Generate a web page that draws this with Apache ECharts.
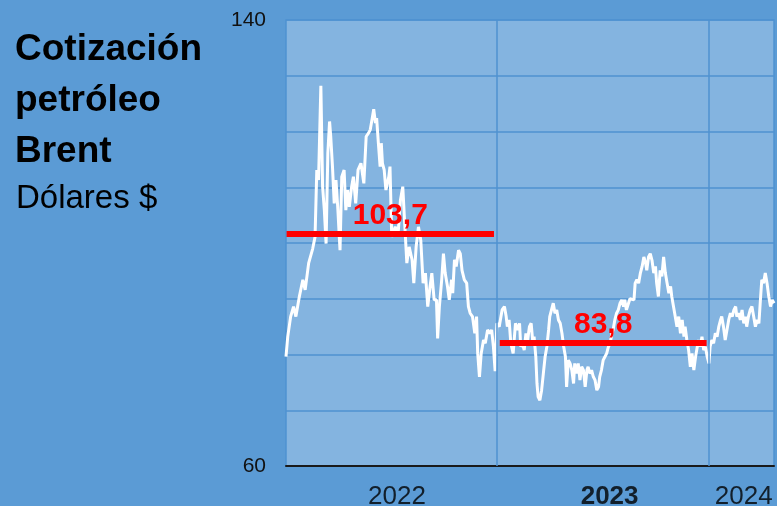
<!DOCTYPE html>
<html>
<head>
<meta charset="utf-8">
<script src="https://cdn.jsdelivr.net/npm/echarts@6/dist/echarts.min.js"></script>
<style>
  html, body { margin: 0; padding: 0; background: #5b9bd5; }
  #container { width: 777px; height: 506px; }
</style>
</head>
<body>
<div id="container"></div>
<script>
// daily-ish Brent quotes
const dates = [
  '2022-01-03','2022-01-06','2022-01-11','2022-01-16','2022-01-20','2022-01-26','2022-02-01','2022-02-05','2022-02-11','2022-02-18',
  '2022-02-22','2022-02-25','2022-02-28','2022-03-04','2022-03-07','2022-03-10','2022-03-13','2022-03-16','2022-03-19','2022-03-21',
  '2022-03-24','2022-03-27','2022-03-30','2022-04-02','2022-04-06','2022-04-09','2022-04-13','2022-04-16','2022-04-19','2022-04-22',
  '2022-04-26','2022-04-29','2022-05-03','2022-05-07','2022-05-12','2022-05-17','2022-05-21','2022-05-25','2022-05-28','2022-05-31',
  '2022-06-03','2022-06-06','2022-06-08','2022-06-11','2022-06-14','2022-06-16','2022-06-18','2022-06-21','2022-06-24','2022-06-29',
  '2022-07-01','2022-07-04','2022-07-10','2022-07-15','2022-07-19','2022-07-23','2022-07-26','2022-07-30','2022-08-03','2022-08-08',
  '2022-08-11','2022-08-15','2022-08-19','2022-08-23','2022-08-27','2022-08-31','2022-09-04','2022-09-08','2022-09-11','2022-09-15',
  '2022-09-19','2022-09-21','2022-09-24','2022-09-28','2022-10-01','2022-10-04','2022-10-08','2022-10-11','2022-10-15','2022-10-17',
  '2022-10-20','2022-10-23','2022-10-27','2022-10-30','2022-11-02','2022-11-06','2022-11-10','2022-11-13','2022-11-16','2022-11-20',
  '2022-11-24','2022-11-27','2022-11-29','2022-12-02','2022-12-05','2022-12-09','2022-12-12','2022-12-16','2022-12-20','2022-12-23',
  '2022-12-26','2022-12-29',
  '2023-01-01','2023-01-05','2023-01-10','2023-01-14','2023-01-17','2023-01-19','2023-01-22','2023-01-25','2023-01-29','2023-02-02',
  '2023-02-06','2023-02-09','2023-02-11','2023-02-14','2023-02-17','2023-02-20','2023-02-23','2023-02-26','2023-03-01','2023-03-04',
  '2023-03-06','2023-03-09','2023-03-11','2023-03-13','2023-03-16','2023-03-19','2023-03-22','2023-03-25','2023-03-28','2023-03-31',
  '2023-04-02','2023-04-05','2023-04-08','2023-04-11','2023-04-14','2023-04-17','2023-04-20','2023-04-23','2023-04-26','2023-04-29',
  '2023-05-01','2023-05-04','2023-05-07','2023-05-10','2023-05-13','2023-05-15','2023-05-18','2023-05-21','2023-05-24','2023-05-27',
  '2023-05-30','2023-06-02','2023-06-05','2023-06-07','2023-06-10','2023-06-13','2023-06-16','2023-06-19','2023-06-22','2023-06-25',
  '2023-06-27','2023-06-30','2023-07-03','2023-07-06','2023-07-09','2023-07-12','2023-07-15','2023-07-18','2023-07-20','2023-07-23',
  '2023-07-26','2023-07-29','2023-08-01','2023-08-04','2023-08-07','2023-08-09','2023-08-12','2023-08-18','2023-08-25','2023-08-27',
  '2023-08-30','2023-09-02','2023-09-05','2023-09-08','2023-09-11','2023-09-14','2023-09-16','2023-09-19','2023-09-22','2023-09-25',
  '2023-09-28','2023-10-01','2023-10-03','2023-10-06','2023-10-09','2023-10-12','2023-10-15','2023-10-18','2023-10-21','2023-10-24',
  '2023-10-27','2023-10-29','2023-11-01','2023-11-04','2023-11-07','2023-11-10','2023-11-13','2023-11-16','2023-11-19','2023-11-21',
  '2023-11-24','2023-11-27','2023-11-30','2023-12-03','2023-12-06','2023-12-09','2023-12-11','2023-12-14','2023-12-17','2023-12-20',
  '2023-12-23','2023-12-26','2023-12-29',
  '2024-01-01','2024-01-03','2024-01-06','2024-01-09','2024-01-12','2024-01-15','2024-01-18','2024-01-21','2024-01-23','2024-01-26',
  '2024-01-29','2024-02-01','2024-02-04','2024-02-07','2024-02-10','2024-02-13','2024-02-16','2024-02-18','2024-02-21','2024-02-24',
  '2024-02-27','2024-03-01','2024-03-04','2024-03-06','2024-03-09','2024-03-12','2024-03-15','2024-03-18','2024-03-21','2024-03-24',
  '2024-03-27','2024-03-30','2024-04-01','2024-04-04','2024-04-07','2024-04-10','2024-04-13','2024-04-16','2024-04-19','2024-04-22'
];
const prices = [
  79.6, 83.2, 86.8, 88.6, 86.8, 90.4, 93.4, 91.6, 96.4, 99.0,
  101.1, 113.1, 111.3, 128.2, 110.1, 105.9, 99.9, 116.1, 121.8, 119.1,
  113.7, 107.1, 111.3, 106.5, 98.7, 111.9, 113.1, 105.9, 109.5, 106.5,
  110.1, 111.9, 107.1, 113.1, 114.3, 110.7, 119.1, 119.7, 120.3, 122.1,
  124.0, 121.5, 122.4, 117.9, 113.7, 117.9, 114.3, 113.1, 109.5, 111.9,
  113.7, 101.1, 102.9, 101.7, 107.7, 110.1, 104.1, 96.4, 99.3, 97.0,
  92.8, 99.3, 102.9, 100.5, 92.8, 94.6, 88.6, 92.2, 94.6, 89.8,
  89.8, 82.9, 88.6, 93.4, 98.1, 94.6, 92.2, 89.8, 93.4, 91.0,
  97.0, 95.8, 98.7, 98.1, 95.1, 93.4, 92.8, 88.6, 87.4, 86.8,
  83.8, 86.8, 80.2, 76.0, 80.2, 82.6, 82.0, 84.4, 83.8, 84.4,
  81.4, 77.0,
  85.6, 85.0, 88.0, 88.6, 86.8, 85.0, 86.2, 82.0, 80.2, 85.6,
  84.4, 85.6, 81.4, 82.0, 80.8, 83.8, 82.6, 85.0, 85.6, 82.0,
  83.2, 79.6, 74.8, 72.4, 71.8, 73.6, 76.6, 79.6, 81.4, 84.4,
  86.8, 88.0, 89.2, 87.4, 88.0, 86.2, 85.6, 83.8, 81.4, 79.6,
  74.2, 79.0, 78.4, 77.2, 74.8, 78.4, 76.6, 78.4, 75.4, 77.8,
  77.2, 74.2, 77.2, 77.8, 76.6, 77.2, 76.0, 75.4, 73.6, 74.2,
  76.0, 77.2, 79.0, 79.6, 80.2, 81.4, 82.0, 83.8, 84.4, 86.2,
  87.4, 88.0, 89.2, 89.8, 88.6, 89.8, 88.0, 90.0, 89.8, 92.8,
  93.4, 92.8, 94.6, 95.8, 97.5, 96.4, 95.1, 97.5, 98.1, 96.9,
  94.6, 95.8, 92.8, 90.4, 95.1, 94.0, 97.5, 94.6, 92.8, 91.0,
  92.2, 90.4, 88.6, 86.8, 85.0, 86.8, 83.8, 86.2, 83.2, 85.0,
  82.6, 80.8, 77.8, 80.2, 77.2, 79.6, 80.8, 82.6, 81.4, 83.2,
  80.8, 81.4, 79.6,
  78.4, 81.4, 82.6, 82.0, 83.8, 83.2, 85.0, 86.2, 86.8, 85.0,
  82.6, 84.4, 86.2, 87.4, 86.8, 88.0, 88.6, 86.8, 87.4, 86.2,
  88.0, 85.6, 86.8, 85.0, 86.8, 88.0, 88.6, 86.8, 85.0, 86.2,
  85.6, 90.4, 93.4, 92.8, 94.6, 92.8, 90.4, 88.6, 89.8, 89.2
];

// yearly averages: where the bar sits, what it says, and its span
const meanLevels = [101.7, 82.1];
const meanLabels = ['103,7', '83,8'];
const meanStart = ['2022-01-04', '2023-01-06'];
const meanEnd = ['2022-12-27', '2023-12-28'];

// year names under the axis and year boundaries
const years = ['2022', '2023', '2024'];
const yearCenters = ['2022-07-13', '2023-07-14', '2024-03-01'];
const yearStarts = ['2023-01-01', '2024-01-01'];

const FONT = '"Liberation Sans", Arial, sans-serif';
const GRID_BLUE = '#4f92d1';

var dom = document.getElementById('container');
var myChart = echarts.init(dom, null, { renderer: 'canvas' });

myChart.setOption({
  animation: false,
  backgroundColor: '#5b9bd5',
  textStyle: { fontFamily: FONT },
  title: [
    {
      text: 'Cotización\npetróleo\nBrent',
      left: 10,
      top: 19,
      textStyle: { fontSize: 37, fontWeight: 'bold', lineHeight: 51, color: '#000', fontFamily: FONT }
    },
    {
      text: 'Dólares $',
      left: 11,
      top: 174,
      textStyle: { fontSize: 33, fontWeight: 'normal', lineHeight: 40, color: '#000', fontFamily: FONT }
    }
  ],
  grid: {
    left: 286, right: 3, top: 20, bottom: 40,
    show: true,
    backgroundColor: '#84b4e0',
    borderColor: GRID_BLUE,
    borderWidth: 1.5
  },
  xAxis: {
    type: 'time',
    min: '2022-01-03',
    max: '2024-04-22',
    axisLine: { show: true, lineStyle: { color: '#1a1a1a', width: 2 } },
    axisTick: { show: false },
    axisLabel: { show: false },
    splitLine: { show: false }
  },
  yAxis: {
    type: 'value',
    min: 60,
    max: 140,
    interval: 10,
    axisLine: { show: false },
    axisTick: { show: false },
    axisLabel: {
      margin: 20,
      fontSize: 21,
      color: '#111',
      fontFamily: FONT,
      formatter: v => (v === 60 || v === 140) ? String(v) : ''
    },
    splitLine: { lineStyle: { color: GRID_BLUE, width: 1.5 } }
  },
  series: [
    {
      name: 'Brent',
      type: 'line',
      data: dates.map((d, i) => [d, prices[i]]),
      showSymbol: false,
      lineStyle: { color: '#ffffff', width: 3 },
      z: 3,
      markLine: {
        silent: true,
        symbol: ['none', 'none'],
        lineStyle: { color: '#ff0000', width: 6, type: 'solid' },
        label: {
          show: true,
          position: 'middle',
          distance: 3,
          color: '#ff0000',
          fontSize: 30,
          fontWeight: 'bold',
          fontFamily: FONT
        },
        data: meanLevels.map((v, i) => [
          { coord: [meanStart[i], v], label: { formatter: meanLabels[i] } },
          { coord: [meanEnd[i], v] }
        ])
      }
    },
    {
      name: 'years',
      type: 'scatter',
      data: yearCenters.map(d => [d, 60]),
      symbolSize: 0.1,
      itemStyle: { color: 'rgba(0,0,0,0)' },
      clip: false,
      z: 2,
      label: {
        show: true,
        position: 'inside',
        offset: [0, 31],
        fontSize: 26,
        color: '#000',
        fontFamily: FONT,
        formatter: p => {
          let y = years[p.dataIndex];
          return y === '2023' ? '{b|' + y + '}' : y;
        },
        rich: { b: { fontSize: 26, fontWeight: 'bold', color: '#000', fontFamily: FONT } }
      },
      markLine: {
        silent: true,
        symbol: ['none', 'none'],
        label: { show: false },
        lineStyle: { color: GRID_BLUE, width: 1.5, type: 'solid' },
        data: yearStarts.map(d => ({ xAxis: d }))
      }
    }
  ]
});
</script>
</body>
</html>
